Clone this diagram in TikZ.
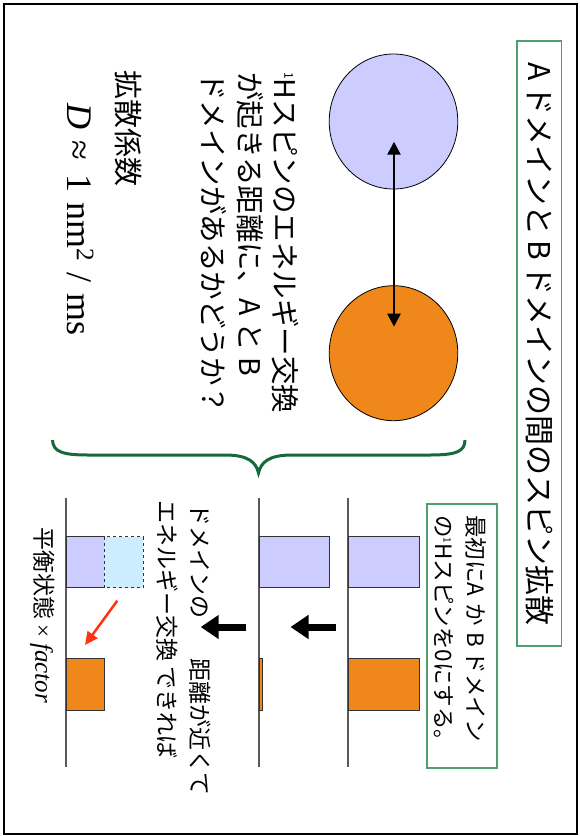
\documentclass[tikz,border=0pt]{standalone}
\usepackage{fontspec}
\setmainfont{Noto Sans CJK JP}
\newfontfamily\tnr{Liberation Serif}
\usetikzlibrary{arrows.meta,shapes.geometric}
\definecolor{domA}{HTML}{CCCCFF}
\definecolor{domB}{HTML}{EF871A}
\definecolor{domC}{HTML}{CCECFF}
\definecolor{boxgreen}{HTML}{4E9E6E}
\definecolor{bracegreen}{HTML}{16693A}
\definecolor{redarr}{HTML}{FF3311}
\newcommand\myone[2]{\raisebox{#1}{\fontsize{#2}{#2}\selectfont 1}}
\begin{document}
\begin{tikzpicture}[x=1pt,y=-1pt,
  vt/.style={rotate=-90,anchor=base west,inner sep=0pt},
  fA/.style={font=\fontsize{28.5}{34}\selectfont},
  fB/.style={font=\fontsize{22.5}{27}\selectfont},
  fC/.style={font=\fontsize{23}{28}\selectfont},
  gbox/.style={draw=boxgreen,line width=1.2pt},
  barbox/.style={draw=black!80,line width=1pt},
  baseln/.style={draw=black!65,line width=1.3pt},
  blockarrow/.style={line width=7pt,-{Triangle[length=18pt,width=23pt]}},
  dblarrow/.style={line width=2.5pt,{Triangle[length=13pt,width=13pt]}-{Triangle[length=13pt,width=13pt]}},
  redarrow/.style={draw=redarr,line width=2.5pt,-{Triangle[length=13pt,width=12pt]},redarr}]
\useasboundingbox (0,0) rectangle (580,836);
% frame
\draw[line width=2pt] (3.5,4) rectangle (577,834);
% title box
\draw[gbox] (517,41) rectangle (561.5,646);
\node[vt,font=\fontsize{30}{34}\selectfont] (title) at (528.6,62) {A\,ドメインと\,B\,ドメインの間のスピン拡散};
% circles
\node[ellipse,draw=black,line width=0.8pt,fill=domA,minimum width=128.6pt,minimum height=135pt,inner sep=0pt] (cA) at (393.5,121.5) {};
\node[ellipse,draw=black,line width=0.8pt,fill=domB,minimum width=128.6pt,minimum height=135pt,inner sep=0pt] (cB) at (393.5,353.2) {};
\coordinate (a1) at (394,141.7);
\coordinate (a2) at (394,326.7);
\draw[dblarrow] (a1) -- (a2);
% left text block
\node[vt,fA] (l1) at (274.4,72) {\myone{10pt}{12}Hスピンのエネルギー交換};
\node[vt,fA] (l2) at (239.4,72) {が起きる距離に、A と B};
\node[vt,fA] (l3) at (202.4,72) {ドメインがあるかどうか？};
\node[vt,font=\fontsize{29}{34}\selectfont] (kakusan) at (117,70) {拡散係数};
\node[vt,font=\tnr\fontsize{36}{40}\selectfont] (dform) at (67.8,103) {\textit{D}\hspace{0.3em}≈\hspace{0.4em}1\hspace{0.3em}nm\textsuperscript{2}\hspace{0.3em}/\hspace{0.3em}ms};
% brace
\draw[draw=bracegreen,line width=3pt] (52.5,440) .. controls (53,452) and (63,455) .. (88,455) -- (225,455) .. controls (248,455) and (256,462) .. (258.5,473) .. controls (261,462) and (269,455) .. (292,455) -- (430,455) .. controls (455,455) and (465,452) .. (465,440);
% subtitle box
\draw[gbox] (427,504) rectangle (497,768);
\node[vt,fB] (s1) at (467.6,515) {最初にA\hspace{0.3em}か\hspace{0.3em}B\hspace{0.2em}ドメイン};
\node[vt,fB] (s2) at (435.6,515) {の\myone{8pt}{10}Hスピンを0にする。};
% baselines
\draw[baseln] (348,498) -- (348,767);
\draw[baseln] (259,498) -- (259,767);
\draw[baseln] (66,498) -- (66,767);
% bars row 1
\draw[barbox,fill=domA] (348,536.7) rectangle (419.6,587.7);
\draw[barbox,fill=domB] (348,658) rectangle (419.6,710);
% bars row 2
\draw[barbox,fill=domA] (259,536.7) rectangle (329.5,587.7);
\draw[barbox,fill=domB] (259,658) rectangle (262,710);
% bars row 3
\draw[barbox,fill=domA] (66,536.7) rectangle (104.4,587.7);
\draw[barbox,fill=domC,dashed] (104.4,536.7) rectangle (143.3,587.7);
\draw[barbox,fill=domB] (66,658) rectangle (104.5,710);
% block arrows
\coordinate (b1s) at (336,627);
\coordinate (b1e) at (290.5,627);
\coordinate (b2s) at (246,627);
\coordinate (b2e) at (200.7,627);
\draw[blockarrow] (b1s) -- (b1e);
\draw[blockarrow] (b2s) -- (b2e);
% red arrow
\coordinate (r1) at (117.3,600.7);
\coordinate (r2) at (85,645);
\draw[redarrow] (r1) -- (r2);
% lower texts
\node[vt,fC] (t1) at (191.3,503) {ドメインの};
\node[vt,fC] (t2) at (191.3,658) {距離が近くて};
\node[vt,fC] (t3) at (158.3,500) {エネルギー交換 できれば};
\node[vt,fC] (t4) at (35.3,527) {平衡状態 {\tnr × \fontsize{25}{28}\selectfont\itshape factor}};
\end{tikzpicture}
\end{document}
